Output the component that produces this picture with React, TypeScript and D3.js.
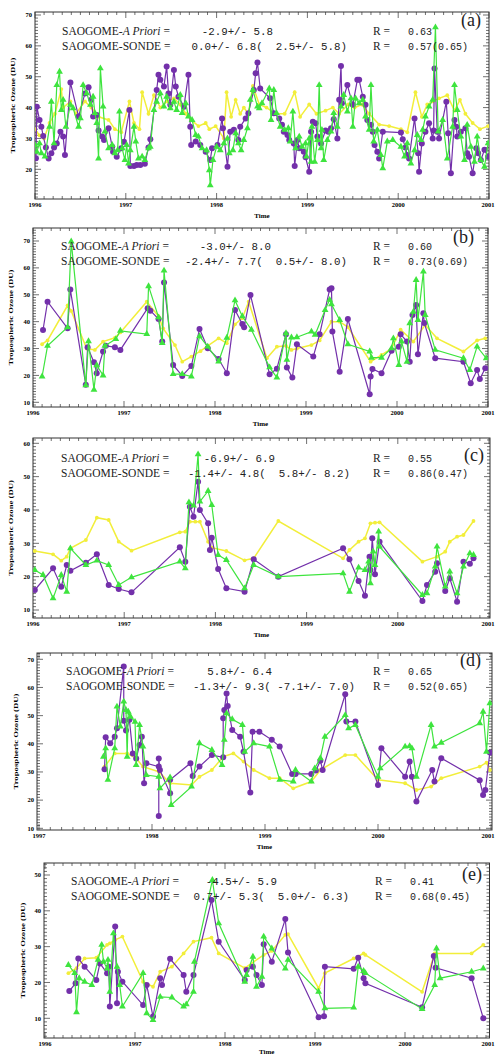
import React, { useRef, useEffect } from "react";
import * as d3 from "d3";

type Pt = [number, number];

// ---- panel (a) ----
const aSonde: Pt[] = [
  [1996.01, 23.6], [1996.02, 40.3], [1996.05, 36.0], [1996.07, 33.8], [1996.09, 30.8], [1996.12, 27.1], [1996.15, 23.5],
  [1996.18, 25.2], [1996.21, 27.1], [1996.24, 28.4], [1996.28, 32.2], [1996.31, 30.6], [1996.33, 24.6], [1996.39, 48.1],
  [1996.48, 37.1], [1996.55, 44.6], [1996.59, 46.6], [1996.62, 42.5], [1996.64, 37.1], [1996.68, 37.6], [1996.70, 32.6],
  [1996.74, 30.6], [1996.76, 29.5], [1996.81, 33.3], [1996.85, 27.3], [1996.86, 25.7], [1996.90, 24.1], [1996.95, 26.8],
  [1996.98, 28.9], [1997.04, 39.2], [1997.05, 21.1], [1997.09, 21.1], [1997.12, 21.4], [1997.16, 21.4], [1997.21, 21.8],
  [1997.25, 27.1], [1997.27, 29.7], [1997.34, 45.7], [1997.36, 50.6], [1997.38, 49.0], [1997.42, 46.8], [1997.45, 53.3],
  [1997.47, 44.6], [1997.49, 40.9], [1997.53, 52.2], [1997.55, 46.8], [1997.58, 43.5], [1997.64, 40.3], [1997.69, 50.6],
  [1997.71, 33.8], [1997.72, 27.9], [1997.77, 29.0], [1997.82, 27.9], [1997.88, 25.7], [1997.93, 23.0], [1997.95, 26.8],
  [1998.01, 27.9], [1998.06, 36.5], [1998.07, 33.3], [1998.12, 20.8], [1998.15, 32.2], [1998.19, 32.8], [1998.24, 29.5],
  [1998.26, 33.8], [1998.32, 36.5], [1998.35, 38.2], [1998.41, 45.7], [1998.43, 51.1], [1998.45, 54.6], [1998.48, 46.2],
  [1998.59, 43.0], [1998.63, 38.2], [1998.69, 36.5], [1998.72, 34.4], [1998.74, 32.2], [1998.78, 31.1], [1998.80, 29.5],
  [1998.85, 28.4], [1998.86, 21.1], [1998.89, 29.5], [1998.91, 26.8], [1998.96, 25.7], [1998.98, 23.9], [1999.02, 19.2],
  [1999.04, 32.2], [1999.06, 35.4], [1999.09, 34.9], [1999.11, 30.6], [1999.15, 28.4], [1999.20, 32.6], [1999.23, 32.2],
  [1999.26, 33.3], [1999.29, 36.2], [1999.33, 30.0], [1999.35, 42.5], [1999.37, 53.5], [1999.38, 41.4], [1999.44, 47.3],
  [1999.50, 40.9], [1999.55, 49.0], [1999.57, 49.0], [1999.61, 43.5], [1999.64, 40.9], [1999.66, 36.0], [1999.70, 34.4],
  [1999.72, 32.2], [1999.74, 27.9], [1999.77, 25.7], [1999.79, 23.5], [1999.83, 32.2], [2000.03, 31.9], [2000.05, 29.7],
  [2000.08, 27.1], [2000.10, 24.6], [2000.12, 23.5], [2000.18, 36.5], [2000.22, 25.2], [2000.23, 19.2], [2000.26, 28.4],
  [2000.30, 32.2], [2000.34, 34.9], [2000.38, 30.0], [2000.39, 32.6], [2000.40, 52.7], [2000.43, 32.2], [2000.45, 30.0],
  [2000.53, 41.9], [2000.55, 31.7], [2000.58, 18.7], [2000.62, 36.0], [2000.64, 33.8], [2000.65, 30.6], [2000.69, 32.2],
  [2000.74, 33.3], [2000.76, 25.2], [2000.78, 24.1], [2000.82, 18.7], [2000.86, 26.8], [2000.88, 25.2], [2000.91, 23.0],
  [2000.95, 26.3], [2000.99, 24.1],
];
const aRetrieval: Pt[] = [
  [1996.00, 27.9], [1996.02, 25.7], [1996.05, 28.4], [1996.07, 25.2], [1996.11, 24.1], [1996.16, 33.8], [1996.18, 41.9],
  [1996.21, 28.4], [1996.24, 47.3], [1996.27, 51.6], [1996.29, 39.2], [1996.31, 42.5], [1996.34, 33.8], [1996.39, 40.9],
  [1996.42, 39.8], [1996.48, 33.8], [1996.50, 36.5], [1996.53, 47.3], [1996.57, 44.6], [1996.61, 40.9], [1996.64, 43.5],
  [1996.66, 38.2], [1996.68, 35.0], [1996.70, 23.5], [1996.72, 52.7], [1996.75, 40.3], [1996.77, 32.2], [1996.81, 26.8],
  [1996.85, 27.9], [1996.88, 25.2], [1996.91, 26.2], [1996.93, 38.7], [1996.96, 26.8], [1996.99, 23.0], [1997.01, 27.9],
  [1997.03, 21.9], [1997.05, 26.2], [1997.09, 33.8], [1997.11, 29.0], [1997.14, 23.5], [1997.18, 24.1], [1997.21, 23.0],
  [1997.25, 26.8], [1997.27, 27.3], [1997.31, 39.2], [1997.34, 41.9], [1997.38, 44.6], [1997.42, 40.3], [1997.45, 43.5],
  [1997.49, 39.8], [1997.53, 41.9], [1997.56, 39.2], [1997.60, 44.1], [1997.62, 38.2], [1997.66, 41.4], [1997.69, 37.1],
  [1997.73, 36.0], [1997.77, 31.1], [1997.80, 30.6], [1997.84, 26.8], [1997.89, 26.2], [1997.92, 19.7], [1997.93, 14.8],
  [1997.96, 23.0], [1998.00, 27.3], [1998.04, 26.2], [1998.08, 28.4], [1998.12, 30.0], [1998.14, 25.2], [1998.18, 26.2],
  [1998.21, 31.7], [1998.24, 28.4], [1998.27, 26.2], [1998.30, 29.5], [1998.34, 33.3], [1998.37, 42.5], [1998.40, 45.7],
  [1998.45, 40.3], [1998.47, 39.8], [1998.50, 41.4], [1998.58, 46.2], [1998.60, 36.0], [1998.63, 45.7], [1998.66, 38.2],
  [1998.70, 33.8], [1998.75, 32.8], [1998.79, 33.3], [1998.81, 29.0], [1998.84, 38.7], [1998.87, 26.8], [1998.91, 30.6],
  [1998.94, 27.3], [1998.98, 28.4], [1998.99, 24.1], [1999.02, 30.0], [1999.04, 22.4], [1999.05, 33.8], [1999.08, 22.4],
  [1999.11, 29.5], [1999.13, 47.3], [1999.15, 26.8], [1999.16, 32.8], [1999.18, 23.0], [1999.22, 29.5], [1999.26, 32.2],
  [1999.29, 38.2], [1999.33, 33.8], [1999.37, 40.3], [1999.40, 44.1], [1999.44, 38.7], [1999.48, 43.0], [1999.50, 33.8],
  [1999.53, 43.0], [1999.57, 41.4], [1999.61, 42.5], [1999.64, 37.1], [1999.68, 32.8], [1999.70, 47.3], [1999.73, 29.0],
  [1999.77, 32.8], [1999.81, 24.6], [1999.83, 20.3], [1999.88, 29.0], [1999.94, 29.5], [2000.03, 27.3], [2000.07, 24.1],
  [2000.10, 28.4], [2000.14, 21.9], [2000.18, 26.2], [2000.21, 31.1], [2000.25, 29.5], [2000.27, 32.8], [2000.30, 37.1],
  [2000.34, 40.3], [2000.38, 42.5], [2000.41, 66.0], [2000.44, 32.2], [2000.49, 36.0], [2000.54, 23.5], [2000.60, 33.8],
  [2000.62, 47.3], [2000.65, 39.2], [2000.69, 30.6], [2000.73, 23.0], [2000.76, 34.4], [2000.80, 27.3], [2000.84, 22.4],
  [2000.87, 30.6], [2000.91, 23.0], [2000.95, 20.8], [2000.99, 28.4],
];
const aApriori: Pt[] = [
  [1996.00, 33], [1996.05, 31], [1996.10, 30], [1996.16, 35], [1996.22, 38], [1996.29, 46], [1996.31, 40], [1996.39, 42],
  [1996.45, 38], [1996.55, 42], [1996.62, 40], [1996.70, 37], [1996.81, 36], [1996.88, 33], [1996.95, 32], [1997.04, 42],
  [1997.09, 35], [1997.15, 33], [1997.18, 45], [1997.25, 38], [1997.31, 44], [1997.38, 40], [1997.45, 42], [1997.53, 43],
  [1997.60, 41], [1997.66, 38], [1997.72, 36], [1997.80, 34], [1997.88, 35], [1997.92, 33], [1997.99, 34], [1998.08, 30],
  [1998.11, 45], [1998.16, 37], [1998.21, 42.5], [1998.26, 38], [1998.30, 40], [1998.35, 38], [1998.40, 47], [1998.47, 41],
  [1998.55, 40], [1998.65, 38], [1998.75, 38], [1998.86, 45], [1998.92, 37], [1999.02, 41], [1999.10, 38], [1999.20, 39],
  [1999.28, 40], [1999.35, 38], [1999.45, 41], [1999.52, 40], [1999.60, 41], [1999.68, 38], [1999.79, 34.5], [1999.90, 34],
  [2000.03, 33], [2000.10, 32], [2000.19, 45], [2000.26, 37], [2000.32, 41], [2000.38, 42], [2000.45, 43], [2000.54, 44],
  [2000.62, 39], [2000.68, 42.5], [2000.74, 38], [2000.82, 35], [2000.90, 33], [2000.99, 34],
];
const aStats = ["-2.9+/- 5.8", "0.0+/- 6.8(  2.5+/- 5.8)", "0.63", "0.57(0.65)"];

// ---- panel (b) ----
const bSonde: Pt[] = [
  [1996.11, 36.9], [1996.16, 47.4], [1996.38, 37.5], [1996.41, 52.0], [1996.58, 16.5], [1996.60, 30.5], [1996.67, 24.9],
  [1996.70, 20.8], [1996.77, 28.9], [1996.80, 31.0], [1996.90, 30.5], [1996.96, 29.5], [1997.26, 45.0], [1997.29, 44.1],
  [1997.38, 41.0], [1997.42, 32.6], [1997.44, 54.6], [1997.54, 23.9], [1997.64, 19.8], [1997.74, 23.5], [1997.83, 37.3],
  [1997.92, 30.1], [1998.04, 26.1], [1998.13, 20.8], [1998.22, 44.3], [1998.30, 39.1], [1998.32, 37.9], [1998.39, 49.9],
  [1998.60, 20.4], [1998.68, 22.5], [1998.78, 35.3], [1998.79, 22.9], [1998.85, 19.2], [1998.90, 31.6], [1999.08, 27.0],
  [1999.15, 35.3], [1999.26, 52.0], [1999.28, 52.4], [1999.29, 36.3], [1999.37, 21.4], [1999.46, 41.0], [1999.70, 13.0],
  [1999.71, 19.6], [1999.73, 22.4], [1999.83, 20.8], [1999.94, 29.2], [2000.02, 30.7], [2000.04, 35.3], [2000.11, 32.6],
  [2000.14, 25.1], [2000.17, 42.5], [2000.21, 46.2], [2000.23, 27.9], [2000.29, 43.1], [2000.30, 39.5], [2000.42, 26.4],
  [2000.73, 25.1], [2000.81, 17.1], [2000.88, 22.0], [2000.91, 18.7], [2000.97, 22.7],
];
const bRetrieval: Pt[] = [
  [1996.10, 19.6], [1996.16, 31.0], [1996.38, 37.9], [1996.42, 69.8], [1996.58, 16.3], [1996.61, 32.7], [1996.67, 14.7],
  [1996.70, 23.8], [1996.77, 20.0], [1996.79, 31.0], [1996.91, 33.5], [1996.96, 36.6], [1997.25, 35.4], [1997.27, 53.2],
  [1997.38, 41.6], [1997.42, 32.0], [1997.44, 59.0], [1997.54, 20.5], [1997.64, 20.5], [1997.74, 19.6], [1997.83, 34.6],
  [1997.92, 30.7], [1998.04, 25.2], [1998.13, 34.0], [1998.22, 47.9], [1998.30, 42.0], [1998.40, 37.0], [1998.60, 23.0],
  [1998.68, 19.2], [1998.78, 35.7], [1998.79, 25.8], [1998.84, 34.1], [1998.90, 34.2], [1999.06, 36.3], [1999.10, 35.1],
  [1999.21, 44.3], [1999.26, 48.1], [1999.28, 46.5], [1999.37, 40.6], [1999.46, 31.6], [1999.70, 28.9], [1999.72, 26.6],
  [1999.83, 26.6], [1999.94, 30.1], [1999.96, 33.8], [2000.02, 23.9], [2000.05, 32.6], [2000.11, 25.1], [2000.14, 39.4],
  [2000.18, 43.7], [2000.21, 55.5], [2000.23, 40.6], [2000.29, 58.6], [2000.31, 42.5], [2000.42, 29.5], [2000.73, 26.4],
  [2000.80, 22.0], [2000.88, 30.7], [2000.98, 26.4],
];
const bApriori: Pt[] = [
  [1996.10, 31.6], [1996.16, 33], [1996.38, 46], [1996.42, 44], [1996.59, 30], [1996.68, 29.5], [1996.77, 32.6],
  [1996.90, 34], [1996.96, 36], [1997.25, 47.4], [1997.38, 42], [1997.43, 37.5], [1997.56, 31.3], [1997.64, 25.1],
  [1997.74, 27], [1997.84, 29.0], [1997.92, 31], [1998.04, 33.8], [1998.13, 32], [1998.22, 39], [1998.30, 41.3],
  [1998.37, 47.4], [1998.57, 26.4], [1998.68, 30.7], [1998.78, 31], [1998.84, 29.5], [1998.90, 30], [1999.06, 31.3],
  [1999.15, 33], [1999.28, 40], [1999.37, 40], [1999.46, 38], [1999.71, 25.1], [1999.83, 27.6], [1999.94, 30],
  [2000.04, 37], [2000.18, 32.6], [2000.31, 38.8], [2000.44, 33.8], [2000.73, 28.9], [2000.88, 33], [2000.97, 33.8],
];
const bStats = ["-3.0+/- 8.0", "-2.4+/- 7.7(  0.5+/- 8.0)", "0.60", "0.73(0.69)"];

// ---- panel (c) ----
const cSonde: Pt[] = [
  [1996.02, 16.0], [1996.22, 22.5], [1996.31, 17.0], [1996.37, 23.5], [1996.41, 21.8], [1996.58, 24.2], [1996.70, 26.7],
  [1996.83, 17.5], [1996.94, 16.3], [1997.08, 15.3], [1997.61, 28.8], [1997.67, 24.5], [1997.72, 41.0], [1997.76, 38.0],
  [1997.81, 48.5], [1997.83, 40.0], [1997.92, 36.0], [1997.94, 28.0], [1997.96, 31.7], [1998.03, 22.3], [1998.12, 16.5],
  [1998.32, 15.5], [1998.42, 25.2], [1998.69, 20.0], [1999.40, 28.5], [1999.47, 25.2], [1999.57, 18.7], [1999.64, 14.3],
  [1999.69, 26.0], [1999.70, 22.0], [1999.72, 31.5], [1999.75, 20.7], [1999.80, 30.5], [2000.27, 12.7], [2000.32, 17.5],
  [2000.41, 21.5], [2000.43, 24.0], [2000.52, 15.7], [2000.57, 19.5], [2000.65, 12.5], [2000.72, 24.5], [2000.79, 23.9],
  [2000.83, 25.5],
];
const cRetrieval: Pt[] = [
  [1996.02, 22.0], [1996.11, 20.5], [1996.22, 13.5], [1996.31, 20.5], [1996.37, 15.5], [1996.41, 28.5], [1996.58, 23.5],
  [1996.70, 24.8], [1996.83, 23.5], [1996.94, 17.5], [1997.08, 19.8], [1997.61, 24.5], [1997.67, 22.5], [1997.71, 42.3],
  [1997.76, 41.3], [1997.81, 56.7], [1997.83, 42.5], [1997.92, 45.7], [1997.96, 41.5], [1998.03, 26.5], [1998.12, 25.0],
  [1998.32, 16.5], [1998.42, 23.5], [1998.69, 20.0], [1999.40, 21.0], [1999.47, 15.5], [1999.57, 22.7], [1999.64, 22.0],
  [1999.68, 24.5], [1999.70, 18.0], [1999.73, 27.5], [1999.75, 23.5], [1999.79, 33.5], [1999.80, 29.0], [2000.27, 14.5],
  [2000.32, 15.0], [2000.41, 23.0], [2000.43, 29.0], [2000.52, 17.0], [2000.57, 21.5], [2000.65, 15.0], [2000.72, 23.0],
  [2000.79, 27.0], [2000.83, 26.5],
];
const cApriori: Pt[] = [
  [1996.02, 27.7], [1996.22, 26.7], [1996.31, 24.8], [1996.37, 26.0], [1996.41, 28.5], [1996.58, 31.0], [1996.70, 37.7],
  [1996.83, 37.0], [1996.94, 30.5], [1997.08, 27.8], [1997.61, 33.3], [1997.67, 33.5], [1997.72, 36.5], [1997.78, 36.5],
  [1997.83, 36.5], [1997.92, 30.5], [1997.96, 28.7], [1998.12, 27.7], [1998.32, 24.9], [1998.42, 25.5], [1998.69, 36.7],
  [1999.40, 25.5], [1999.47, 28.0], [1999.57, 30.5], [1999.64, 31.5], [1999.70, 36.0], [1999.75, 36.2], [1999.80, 36.3],
  [2000.27, 24.5], [2000.43, 26.0], [2000.52, 27.5], [2000.57, 30.5], [2000.65, 32.0], [2000.72, 32.5], [2000.83, 36.7],
];
const cStats = ["-6.9+/- 6.9", "-1.4+/- 4.8(  5.8+/- 8.2)", "0.55", "0.86(0.47)"];

// ---- panel (d) ----
const dSonde: Pt[] = [
  [1997.58, 31.0], [1997.59, 42.3], [1997.63, 40.2], [1997.67, 42.5], [1997.69, 45.5], [1997.75, 67.4], [1997.75, 48.2],
  [1997.77, 44.7], [1997.80, 48.5], [1997.83, 36.6], [1997.86, 34.8], [1997.89, 39.6], [1997.91, 42.5], [1997.93, 26.0],
  [1997.95, 33.1], [1998.06, 31.9], [1998.06, 14.4], [1998.06, 34.8], [1998.07, 30.7], [1998.16, 22.4], [1998.16, 27.2],
  [1998.34, 33.1], [1998.36, 28.6], [1998.42, 31.9], [1998.53, 36.0], [1998.63, 35.2], [1998.63, 49.1], [1998.64, 52.0],
  [1998.66, 57.9], [1998.67, 53.4], [1998.71, 44.9], [1998.78, 42.5], [1998.81, 37.2], [1998.87, 22.7], [1998.89, 44.3],
  [1998.95, 44.3], [1999.06, 41.4], [1999.13, 39.0], [1999.24, 29.3], [1999.27, 29.3], [1999.41, 29.3], [1999.45, 30.5],
  [1999.49, 34.0], [1999.51, 30.7], [1999.71, 57.6], [1999.72, 47.9], [1999.80, 47.9], [2000.00, 25.4], [2000.03, 38.4],
  [2000.24, 28.3], [2000.28, 33.7], [2000.30, 28.3], [2000.34, 19.5], [2000.48, 30.7], [2000.50, 26.6], [2000.56, 34.9],
  [2000.90, 27.1], [2000.93, 21.8], [2000.95, 23.6], [2000.99, 36.9],
];
const dRetrieval: Pt[] = [
  [1997.57, 35.4], [1997.59, 38.4], [1997.61, 27.2], [1997.67, 38.4], [1997.69, 53.2], [1997.72, 46.1], [1997.75, 55.0],
  [1997.77, 52.0], [1997.78, 35.4], [1997.79, 51.4], [1997.81, 49.6], [1997.85, 47.8], [1997.86, 32.5], [1997.89, 46.7],
  [1997.92, 39.0], [1997.95, 28.9], [1998.06, 28.3], [1998.07, 24.2], [1998.16, 28.1], [1998.17, 18.3], [1998.35, 24.8],
  [1998.42, 40.2], [1998.53, 37.8], [1998.62, 32.5], [1998.64, 41.4], [1998.66, 50.8], [1998.71, 48.7], [1998.80, 46.7],
  [1998.82, 37.2], [1998.90, 40.2], [1999.04, 39.0], [1999.13, 27.2], [1999.25, 26.6], [1999.27, 30.7], [1999.41, 26.6],
  [1999.44, 31.3], [1999.49, 34.9], [1999.53, 42.5], [1999.71, 50.2], [1999.74, 45.5], [1999.80, 46.7], [2000.00, 28.3],
  [2000.02, 31.3], [2000.24, 39.0], [2000.28, 39.2], [2000.30, 38.4], [2000.34, 28.3], [2000.47, 46.7], [2000.50, 39.0],
  [2000.56, 40.4], [2000.90, 47.3], [2000.93, 51.4], [2000.96, 37.2], [2000.99, 54.4],
];
const dApriori: Pt[] = [
  [1997.58, 31.9], [1997.67, 36.6], [1997.78, 36.6], [1997.86, 34.8], [1997.92, 31.9], [1998.06, 30.1], [1998.16, 26.0],
  [1998.35, 25.4], [1998.42, 28.3], [1998.53, 30.7], [1998.63, 35.4], [1998.72, 36.6], [1998.81, 33.7], [1998.90, 30.7],
  [1999.04, 27.8], [1999.13, 27.8], [1999.25, 24.2], [1999.41, 26.6], [1999.49, 30.7], [1999.71, 36.0], [1999.80, 36.0],
  [2000.00, 27.2], [2000.24, 26.0], [2000.34, 23.6], [2000.47, 24.8], [2000.56, 27.8], [2000.90, 31.9], [2000.96, 33.3],
  [2000.99, 30.7],
];
const dStats = ["5.8+/- 6.4", "-1.3+/- 9.3( -7.1+/- 7.0)", "0.65", "0.52(0.65)"];

// ---- panel (e) ----
const eSonde: Pt[] = [
  [1996.27, 17.6], [1996.34, 19.8], [1996.37, 26.7], [1996.44, 24.4], [1996.57, 20.7], [1996.61, 25.3], [1996.69, 22.6],
  [1996.71, 24.4], [1996.72, 13.3], [1996.78, 35.6], [1996.80, 14.2], [1996.81, 23.0], [1996.86, 20.2], [1997.09, 13.7],
  [1997.13, 19.3], [1997.20, 10.5], [1997.28, 21.2], [1997.30, 19.3], [1997.39, 26.6], [1997.54, 22.1], [1997.57, 17.4],
  [1997.65, 22.1], [1997.85, 43.0], [1997.93, 31.4], [1998.22, 20.7], [1998.24, 23.5], [1998.31, 24.4], [1998.35, 22.1],
  [1998.41, 19.3], [1998.43, 30.7], [1998.52, 25.8], [1998.67, 37.7], [1998.70, 28.4], [1999.04, 10.3], [1999.10, 10.6],
  [1999.11, 24.4], [1999.43, 23.8], [1999.48, 26.9], [1999.54, 21.2], [1999.56, 19.8], [2000.19, 13.1], [2000.32, 27.4],
  [2000.34, 24.1], [2000.74, 21.2], [2000.87, 10.0],
];
const eRetrieval: Pt[] = [
  [1996.26, 24.9], [1996.33, 22.6], [1996.35, 11.7], [1996.38, 21.2], [1996.44, 20.2], [1996.52, 19.3], [1996.59, 26.3],
  [1996.63, 30.5], [1996.65, 25.8], [1996.69, 23.9], [1996.70, 26.3], [1996.72, 17.4], [1996.76, 33.7], [1996.80, 24.4],
  [1996.83, 19.3], [1996.86, 13.3], [1997.09, 22.6], [1997.13, 11.4], [1997.20, 9.5], [1997.28, 16.0], [1997.41, 15.8],
  [1997.54, 13.3], [1997.57, 13.9], [1997.65, 17.4], [1997.66, 25.8], [1997.86, 48.6], [1997.93, 36.5], [1998.22, 20.2],
  [1998.24, 22.1], [1998.31, 27.2], [1998.35, 18.8], [1998.41, 21.6], [1998.43, 32.8], [1998.52, 29.5], [1998.67, 23.9],
  [1998.70, 26.3], [1999.04, 17.4], [1999.11, 12.8], [1999.43, 13.0], [1999.48, 24.4], [1999.54, 23.2], [1999.56, 22.6],
  [2000.19, 12.6], [2000.33, 19.3], [2000.35, 29.5], [2000.39, 21.2], [2000.74, 23.0], [2000.87, 23.9],
];
const eApriori: Pt[] = [
  [1996.26, 22.6], [1996.35, 24.0], [1996.44, 26.7], [1996.57, 26.9], [1996.69, 30.5], [1996.72, 30.9], [1996.78, 31.9],
  [1996.86, 32.8], [1997.09, 20.2], [1997.20, 18.8], [1997.28, 23.0], [1997.41, 24.4], [1997.54, 28.1], [1997.65, 31.4],
  [1997.85, 32.5], [1997.93, 28.1], [1998.22, 24.0], [1998.43, 27.7], [1998.52, 28.8], [1998.67, 33.3], [1998.70, 33.5],
  [1999.04, 18.4], [1999.11, 22.6], [1999.43, 26.7], [1999.54, 28.1], [1999.56, 27.7], [2000.19, 17.4], [2000.33, 28.1],
  [2000.74, 28.1], [2000.87, 30.5],
];
const eStats = ["-4.5+/- 5.9", "0.7+/- 5.3(  5.0+/- 6.3)", "0.41", "0.68(0.45)"];

const yearsA = [1996, 1997, 1998, 1999, 2000, 2001];
const yearsD = [1997, 1998, 1999, 2000, 2001];

const PURPLE = "#7330aa";
const GREEN = "#3ee43e";
const YELLOW = "#f2ee3a";
const SERIF = "'Liberation Serif', 'Times New Roman', serif";
const MONO = "'Liberation Mono', 'DejaVu Sans Mono', monospace";

// layout per panel (pixels)
const panels = [
  { tag: "(a)", sonde: aSonde, ret: aRetrieval, apr: aApriori, stats: aStats, years: yearsA,
    f: { l: 35, r: 489, t: 12, b: 199 }, xDom: [1996, 2001], xPix: [35, 489], yDom: [20, 70], yPix: [169.3, 15],
    yTicks: [20, 30, 40, 50, 60, 70], titleX: 15, tx: 62, b1: 35, b2: 50, v1: 273, v2: 347, rx: 373, rv: 408, tagX: 481, tagY: 26, timeDy: 19 },
  { tag: "(b)", sonde: bSonde, ret: bRetrieval, apr: bApriori, stats: bStats, years: yearsA,
    f: { l: 33, r: 488, t: 228, b: 407 }, xDom: [1996, 2001], xPix: [33, 488], yDom: [10, 70], yPix: [402.3, 241],
    yTicks: [10, 20, 30, 40, 50, 60, 70], titleX: 13, tx: 61, b1: 250, b2: 265, v1: 271, v2: 347, rx: 373, rv: 408, tagX: 474, tagY: 243, timeDy: 19 },
  { tag: "(c)", sonde: cSonde, ret: cRetrieval, apr: cApriori, stats: cStats, years: yearsA,
    f: { l: 33, r: 490, t: 438, b: 618 }, xDom: [1996, 2001], xPix: [33, 489], yDom: [10, 60], yPix: [610, 443.3],
    yTicks: [10, 20, 30, 40, 50, 60], titleX: 13, tx: 61, b1: 462, b2: 477, v1: 275, v2: 350, rx: 373, rv: 408, tagX: 484, tagY: 461, timeDy: 19 },
  { tag: "(d)", sonde: dSonde, ret: dRetrieval, apr: dApriori, stats: dStats, years: yearsD,
    f: { l: 37, r: 492, t: 653, b: 830 }, xDom: [1997, 2001], xPix: [39, 491], yDom: [10, 70], yPix: [828.3, 659.3],
    yTicks: [10, 20, 30, 40, 50, 60, 70], titleX: 18, tx: 66, b1: 675, b2: 690, v1: 272, v2: 355, rx: 373, rv: 408, tagX: 481, tagY: 666, timeDy: 19 },
  { tag: "(e)", sonde: eSonde, ret: eRetrieval, apr: eApriori, stats: eStats, years: yearsA,
    f: { l: 44, r: 489.5, t: 863, b: 1038 }, xDom: [1996, 2001], xPix: [45, 495], yDom: [10, 50], yPix: [1018.3, 875],
    yTicks: [10, 20, 30, 40, 50], titleX: 25, tx: 71, b1: 885, b2: 900, v1: 277, v2: 349, rx: 375, rv: 410, tagX: 482, tagY: 880, timeDy: 16 },
];

const App = () => {
  const svgRef = useRef<SVGSVGElement>(null);

  useEffect(() => {
    const svg = d3.select(svgRef.current);
    svg.selectAll("*").remove();

    panels.forEach((p, idx) => {
      const { f } = p;
      const x = d3.scaleLinear().domain(p.xDom).range(p.xPix);
      const y = d3.scaleLinear().domain(p.yDom).range(p.yPix);
      const g = svg.append("g");

      g.append("clipPath").attr("id", `clip${idx}`)
        .append("rect").attr("x", f.l).attr("y", f.t).attr("width", f.r - f.l).attr("height", f.b - f.t);

      // frame + ticks on all four sides
      g.append("rect").attr("x", f.l).attr("y", f.t).attr("width", f.r - f.l).attr("height", f.b - f.t)
        .attr("fill", "none").attr("stroke", "#333").attr("stroke-width", 1);

      const x0 = x.invert(f.l), x1 = x.invert(f.r);
      d3.range(Math.ceil(x0 * 10), Math.floor(x1 * 10) + 1).forEach((i) => {
        const px = x(i / 10);
        const len = i % 10 === 0 ? 6 : 3;
        g.append("line").attr("x1", px).attr("x2", px).attr("y1", f.b).attr("y2", f.b - len).attr("stroke", "#333").attr("stroke-width", 0.7);
        g.append("line").attr("x1", px).attr("x2", px).attr("y1", f.t).attr("y2", f.t + len).attr("stroke", "#333").attr("stroke-width", 0.7);
      });
      const y0 = y.invert(f.b), y1 = y.invert(f.t);
      d3.range(Math.ceil(y0), Math.floor(y1) + 1).forEach((v) => {
        const py = y(v);
        const len = v % 10 === 0 ? 6 : 3;
        g.append("line").attr("x1", f.l).attr("x2", f.l + len).attr("y1", py).attr("y2", py).attr("stroke", "#333").attr("stroke-width", 0.7);
        g.append("line").attr("x1", f.r).attr("x2", f.r - len).attr("y1", py).attr("y2", py).attr("stroke", "#333").attr("stroke-width", 0.7);
      });

      // tick labels (last one kept inside the page)
      p.years.forEach((yr) => {
        g.append("text").attr("x", Math.min(x(yr), 488)).attr("y", f.b + 8).attr("text-anchor", "middle")
          .attr("font-family", SERIF).attr("font-weight", "bold").attr("font-size", 6.5).text(String(yr));
      });
      p.yTicks.forEach((v) => {
        g.append("text").attr("x", f.l - 3).attr("y", y(v) + 2.3).attr("text-anchor", "end")
          .attr("font-family", SERIF).attr("font-weight", "bold").attr("font-size", 6.5).text(String(v));
      });
      g.append("text").attr("x", (f.l + f.r) / 2).attr("y", f.b + p.timeDy).attr("text-anchor", "middle")
        .attr("font-family", SERIF).attr("font-weight", "bold").attr("font-size", 7).text("Time");
      const cy = (f.t + f.b) / 2;
      g.append("text").attr("transform", `translate(${p.titleX},${cy}) rotate(-90)`).attr("text-anchor", "middle")
        .attr("font-family", SERIF).attr("font-weight", "bold").attr("font-size", 6.5)
        .attr("textLength", 96).attr("lengthAdjust", "spacingAndGlyphs").text("Tropospheric Ozone (DU)");

      // series
      const line = d3.line<Pt>().x((d) => x(d[0])).y((d) => y(d[1]));
      const data = g.append("g").attr("clip-path", `url(#clip${idx})`);

      data.append("path").datum(p.apr).attr("d", line).attr("fill", "none").attr("stroke", YELLOW).attr("stroke-width", 1.5);
      data.selectAll(".ya").data(p.apr).enter().append("circle")
        .attr("cx", (d) => x(d[0])).attr("cy", (d) => y(d[1])).attr("r", 1.9).attr("fill", YELLOW);

      data.append("path").datum(p.sonde).attr("d", line).attr("fill", "none").attr("stroke", PURPLE).attr("stroke-width", 1.2);
      data.selectAll(".pc").data(p.sonde).enter().append("circle")
        .attr("cx", (d) => x(d[0])).attr("cy", (d) => y(d[1])).attr("r", 3).attr("fill", PURPLE);

      const tri = d3.symbol().type(d3.symbolTriangle).size(20);
      data.append("path").datum(p.ret).attr("d", line).attr("fill", "none").attr("stroke", GREEN).attr("stroke-width", 1.2);
      data.selectAll(".gt").data(p.ret).enter().append("path")
        .attr("d", tri).attr("transform", (d) => `translate(${x(d[0])},${y(d[1])})`).attr("fill", GREEN);

      // annotations
      const t1 = g.append("text").attr("x", p.tx).attr("y", p.b1).attr("font-family", SERIF).attr("font-size", 11.5).attr("fill", "#222");
      t1.append("tspan").text("SAOGOME-");
      t1.append("tspan").attr("font-style", "italic").text("A Priori");
      t1.append("tspan").text(" =");
      g.append("text").attr("x", p.tx).attr("y", p.b2).attr("font-family", SERIF).attr("font-size", 11.5).attr("fill", "#222")
        .text("SAOGOME-SONDE =");

      const num = (xx: number, yy: number, s: string, anchor: string, size: number) =>
        g.append("text").attr("x", xx).attr("y", yy).attr("text-anchor", anchor).attr("font-family", MONO)
          .attr("font-size", size).attr("fill", "#222").attr("xml:space", "preserve").style("white-space", "pre").text(s);
      num(p.v1, p.b1, p.stats[0], "end", 10.8);
      num(p.v2, p.b2, p.stats[1], "end", 10.8);

      [p.b1, p.b2].forEach((bb) => {
        g.append("text").attr("x", p.rx).attr("y", bb).attr("font-family", SERIF).attr("font-size", 11.5).attr("fill", "#222").text("R =");
      });
      num(p.rv, p.b1, p.stats[2], "start", 10);
      num(p.rv, p.b2, p.stats[3], "start", 10);

      g.append("text").attr("x", p.tagX).attr("y", p.tagY).attr("text-anchor", "end")
        .attr("font-family", SERIF).attr("font-size", 18).attr("fill", "#222").text(p.tag);
    });
  }, []);

  return (
    <div style={styles.wrap}>
      <svg ref={svgRef} width={496} height={1057} style={{ display: "block" }}></svg>
    </div>
  );
};

const styles = {
  wrap: {
    position: "absolute" as const,
    left: 0,
    top: 0,
    width: 496,
    height: 1057,
    background: "#fff",
  },
};

export default App;
